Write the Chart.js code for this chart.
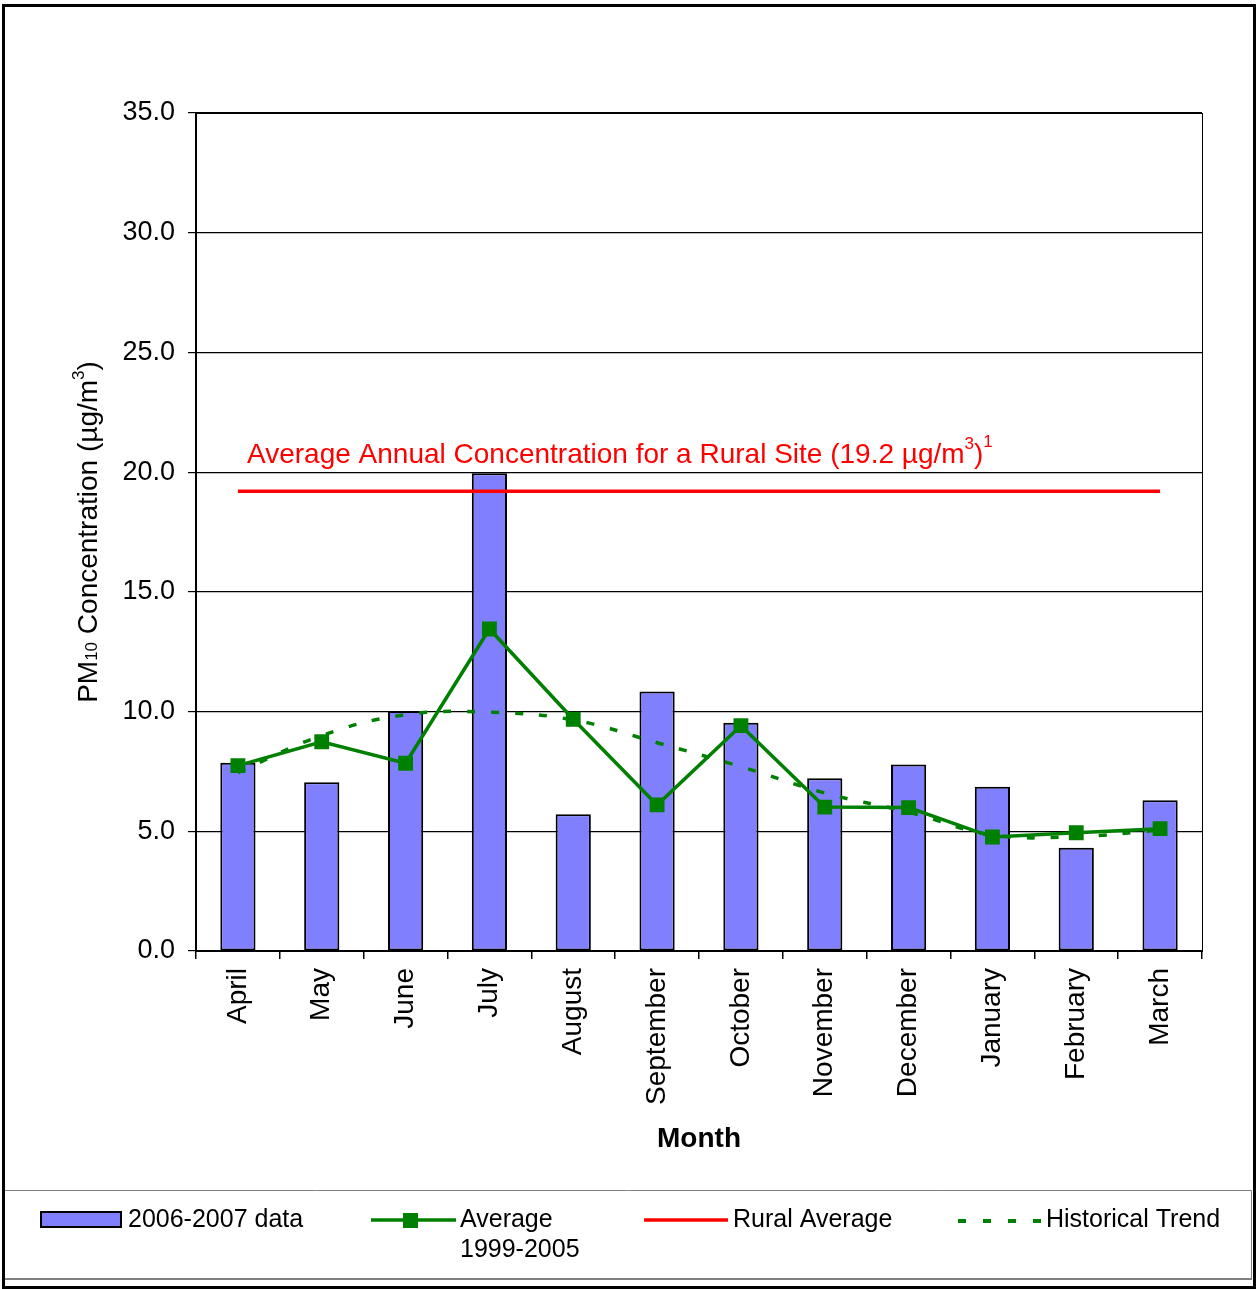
<!DOCTYPE html>
<html>
<head>
<meta charset="utf-8">
<title>PM10 Concentration by Month</title>
<script src="https://cdn.jsdelivr.net/npm/chart.js@4.4.1/dist/chart.umd.min.js"></script>
<style>
  html, body { margin: 0; padding: 0; background: #fff; }
  #wrap { position: relative; width: 1257px; height: 1289px; }
</style>
</head>
<body>
<div id="wrap"><canvas id="chart" width="1257" height="1289"></canvas></div>
<script>
const FONT = '"Liberation Sans", Arial, Helvetica, sans-serif';

// Months of the monitoring year
const months = ['April', 'May', 'June', 'July', 'August', 'September', 'October',
                'November', 'December', 'January', 'February', 'March'];

// Monthly mean PM10 (µg/m³), 2006-2007
const data2006 = [7.86, 7.05, 10.02, 19.95, 5.71, 10.84, 9.53, 7.21, 7.79, 6.86, 4.31, 6.30];

// Monthly averages over 1999-2005
const avg1999to2005 = [7.74, 8.74, 7.84, 13.45, 9.68, 6.10, 9.41, 6.01, 5.99, 4.76, 4.94, 5.11];

// Historical trend curve
const historicalTrend = [7.45, 9.0, 9.87, 9.97, 9.65, 8.7, 7.7, 6.6, 5.8, 4.85, 4.78, 5.05];

// Average annual concentration for a rural site
const ruralAverage = 19.2;
const ruralLine = months.map(() => ruralAverage);

// Value axis
const yMin = 0, yMax = 35, yStep = 5;

const GREEN = '#008000';
const RED = '#FF0000';
const BAR = '#8080FF';

// Draws a line of text made of runs with different sizes / vertical shifts
function drawRuns(ctx, runs, x, y, align) {
  let total = 0;
  runs.forEach(r => {
    ctx.font = (r.bold ? 'bold ' : '') + r.size + 'px ' + FONT;
    r.w = ctx.measureText(r.t).width;
    total += r.w;
  });
  let cx = align === 'center' ? x - total / 2 : x;
  ctx.textAlign = 'left';
  ctx.textBaseline = 'alphabetic';
  runs.forEach(r => {
    ctx.font = (r.bold ? 'bold ' : '') + r.size + 'px ' + FONT;
    ctx.fillText(r.t, cx, y + (r.dy || 0));
    cx += r.w;
  });
}

const decorations = {
  id: 'decorations',
  beforeDatasetsDraw(chart) {
    const ctx = chart.ctx;
    const a = chart.chartArea;
    ctx.save();
    ctx.strokeStyle = '#000';
    ctx.lineWidth = 1;
    ctx.strokeRect(Math.round(a.left) + 0.5, Math.round(a.top) + 0.5,
                   Math.round(a.right - a.left), Math.round(a.bottom - a.top));
    ctx.restore();
  },
  afterDraw(chart) {
    const ctx = chart.ctx;
    const a = chart.chartArea;
    ctx.save();

    // Value axis title, rotated
    ctx.fillStyle = '#000';
    ctx.translate(97, (a.top + a.bottom) / 2);
    ctx.rotate(-Math.PI / 2);
    drawRuns(ctx, [
      { t: 'PM', size: 28 },
      { t: '10', size: 17 },
      { t: ' Concentration (', size: 28 },
      { t: 'µg/m', size: 28 },
      { t: '3', size: 17, dy: -13 },
      { t: ')', size: 28 }
    ], 0, 0, 'center');
    ctx.setTransform(1, 0, 0, 1, 0, 0);

    // Rural site label above the reference line
    ctx.fillStyle = RED;
    drawRuns(ctx, [
      { t: 'Average Annual Concentration for a Rural Site (19.2 µg/m', size: 28 },
      { t: '3', size: 17, dy: -14 },
      { t: ')', size: 28 },
      { t: '1', size: 17, dy: -16 }
    ], 247, 463, 'left');

    // Outer frame
    ctx.strokeStyle = '#000';
    ctx.lineWidth = 3;
    ctx.strokeRect(3.5, 5.5, 1251, 1282);

    // Legend box
    ctx.strokeStyle = '#808080';
    ctx.lineWidth = 1;
    ctx.beginPath();
    ctx.moveTo(5, 1190.5); ctx.lineTo(1251.5, 1190.5); ctx.lineTo(1251.5, 1279);
    ctx.stroke();
    ctx.lineWidth = 2;
    ctx.beginPath();
    ctx.moveTo(5, 1279); ctx.lineTo(1252, 1279);
    ctx.stroke();

    // Legend: bars
    ctx.fillStyle = BAR;
    ctx.fillRect(41, 1212, 80, 15);
    ctx.strokeStyle = '#000';
    ctx.lineWidth = 2;
    ctx.strokeRect(41, 1212, 80, 15);

    // Legend: 1999-2005 average
    ctx.strokeStyle = GREEN;
    ctx.lineWidth = 3.5;
    ctx.beginPath(); ctx.moveTo(371, 1220); ctx.lineTo(456, 1220); ctx.stroke();
    ctx.fillStyle = GREEN;
    ctx.fillRect(403, 1213, 15, 15);

    // Legend: rural average
    ctx.strokeStyle = RED;
    ctx.beginPath(); ctx.moveTo(644, 1220); ctx.lineTo(728, 1220); ctx.stroke();

    // Legend: historical trend
    ctx.strokeStyle = GREEN;
    ctx.lineWidth = 4;
    ctx.setLineDash([8, 17]);
    ctx.beginPath(); ctx.moveTo(958, 1221); ctx.lineTo(1041, 1221); ctx.stroke();
    ctx.setLineDash([]);

    ctx.fillStyle = '#000';
    ctx.font = '25px ' + FONT;
    ctx.textAlign = 'left';
    ctx.textBaseline = 'alphabetic';
    ctx.fillText('2006-2007 data', 128, 1227);
    ctx.fillText('Average', 460, 1227);
    ctx.fillText('1999-2005', 460, 1257);
    ctx.fillText('Rural Average', 733, 1227);
    ctx.fillText('Historical Trend', 1046, 1227);

    ctx.restore();
  }
};

new Chart(document.getElementById('chart'), {
  type: 'bar',
  data: {
    labels: months,
    datasets: [
      {
        type: 'line',
        label: 'Average 1999-2005',
        data: avg1999to2005,
        borderColor: GREEN,
        backgroundColor: GREEN,
        borderWidth: 3.5,
        pointStyle: 'rect',
        pointRadius: 10.5,
        pointBorderWidth: 0,
        pointBackgroundColor: GREEN,
        tension: 0,
        order: 1
      },
      {
        type: 'line',
        label: 'Rural Average',
        data: ruralLine,
        borderColor: RED,
        borderWidth: 3.5,
        pointRadius: 0,
        order: 2
      },
      {
        type: 'line',
        label: 'Historical Trend',
        data: historicalTrend,
        borderColor: GREEN,
        borderWidth: 3.5,
        borderDash: [8, 16],
        pointRadius: 0,
        tension: 0.4,
        order: 3
      },
      {
        type: 'bar',
        label: '2006-2007 data',
        data: data2006,
        backgroundColor: BAR,
        borderColor: '#000',
        borderWidth: 2,
        borderSkipped: false,
        barPercentage: 0.42,
        categoryPercentage: 1.0,
        order: 4
      }
    ]
  },
  options: {
    responsive: false,
    animation: false,
    devicePixelRatio: 1,
    layout: { padding: { top: 113, right: 55, left: 0, bottom: 104 } },
    plugins: {
      legend: { display: false },
      tooltip: { enabled: false }
    },
    scales: {
      x: {
        offset: true,
        grid: {
          offset: true,
          drawOnChartArea: false,
          drawTicks: true,
          tickLength: 8,
          color: '#000',
          lineWidth: 1.5
        },
        border: { display: true, color: '#000', width: 2 },
        ticks: {
          color: '#000',
          font: { family: FONT, size: 28 },
          minRotation: 90,
          maxRotation: 90,
          autoSkip: false,
          padding: 9
        },
        title: {
          display: true,
          text: 'Month',
          color: '#000',
          font: { family: FONT, size: 28, weight: 'bold' },
          padding: { top: 0, bottom: 29 }
        },
        afterFit(scale) { scale.height = 234; }
      },
      y: {
        min: yMin,
        max: yMax,
        grid: {
          color: '#000',
          lineWidth: 1.2,
          tickLength: 8,
          tickColor: '#000'
        },
        border: { display: true, color: '#000', width: 2 },
        ticks: {
          stepSize: yStep,
          color: '#000',
          font: { family: FONT, size: 27 },
          padding: 13,
          callback: v => Number(v).toFixed(1)
        },
        afterFit(scale) { scale.width = 196; }
      }
    }
  },
  plugins: [decorations]
});
</script>
</body>
</html>
